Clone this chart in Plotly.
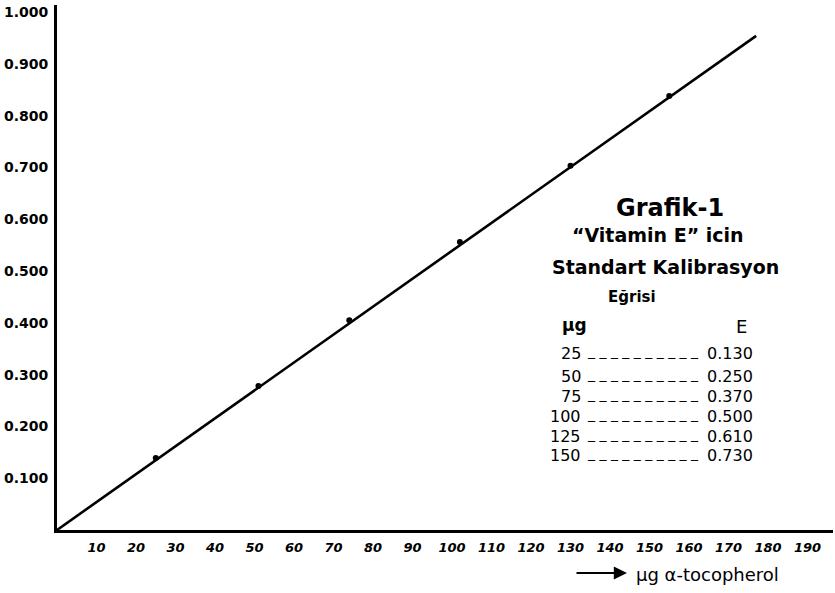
import plotly.graph_objects as go

# Plotted calibration points
point_ug = [25, 51, 74, 102, 130, 155]
point_E = [0.139, 0.278, 0.405, 0.556, 0.703, 0.838]

# Drawn calibration line (origin to end of ruled line)
line_ug = [0, 177]
line_E = [0, 0.954]

# Table written on the chart
table_ug = [25, 50, 75, 100, 125, 150]
table_E = [0.130, 0.250, 0.370, 0.500, 0.610, 0.730]

# Axis ticks
y_tickvals = [0.1, 0.2, 0.3, 0.4, 0.5, 0.6, 0.7, 0.8, 0.9, 1.0]
y_ticktext = ["0.100", "0.200", "0.300", "0.400", "0.500", "0.600", "0.700", "0.800", "0.900", "1.000"]
x_tickvals = [10, 20, 30, 40, 50, 60, 70, 80, 90, 100, 110, 120, 130, 140, 150, 160, 170, 180, 190]
x_ticktext = [str(v) for v in x_tickvals]

W, H = 835, 593
L, R, T, B = 57, 2, 5, 63
pw, ph = W - L - R, H - T - B
x_max = pw / 3.95
y_max = ph / 518.0

def px(xp):
    return (xp - L) / pw

def py(yp):
    return (H - B - yp) / ph

FONT = "DejaVu Sans"

fig = go.Figure()
fig.add_trace(go.Scatter(x=line_ug, y=line_E, mode="lines",
                         line=dict(color="black", width=2.6), hoverinfo="skip",
                         showlegend=False))
fig.add_trace(go.Scatter(x=point_ug, y=point_E, mode="markers",
                         marker=dict(color="black", size=6), showlegend=False))

ann = []
# Title block
ann.append(dict(text="<b>Grafik-1</b>", x=px(670), y=py(208), font=dict(size=24, family=FONT)))
ann.append(dict(text="<b>“Vitamin E” icin</b>", x=px(658), y=py(235), font=dict(size=19, family=FONT)))
ann.append(dict(text="<b>Standart Kalibrasyon</b>", x=px(665), y=py(267), font=dict(size=19, family=FONT)))
ann.append(dict(text="<b>Eğrisi</b>", x=px(632), y=py(297), font=dict(size=15, family=FONT)))
ann.append(dict(text="<b>µg</b>", x=px(574), y=py(325), font=dict(size=17, family=FONT)))
ann.append(dict(text="E", x=px(741), y=py(326), font=dict(size=18, family=FONT)))

row_y = [353, 376, 396, 416, 436, 455]
for ug, e, yy in zip(table_ug, table_E, row_y):
    ann.append(dict(text=str(ug), x=px(583), y=py(yy), xanchor="right",
                    font=dict(size=16, family=FONT)))
    ann.append(dict(text="_ _ _ _ _ _ _ _ _ _", x=px(643), y=py(yy - 2), xanchor="center",
                    font=dict(size=14, family=FONT)))
    ann.append(dict(text=f"{e:.3f}", x=px(705), y=py(yy), xanchor="left",
                    font=dict(size=16, family=FONT)))

# Axis title with arrow
ann.append(dict(text="", x=px(627), y=py(573), ax=-52, ay=0, showarrow=True,
                arrowhead=2, arrowsize=1.2, arrowwidth=2.2, arrowcolor="black"))
ann.append(dict(text="µg α-tocopherol", x=px(634), y=py(574), xanchor="left",
                font=dict(size=18, family=FONT)))

for a in ann:
    a.setdefault("xref", "paper")
    a.setdefault("yref", "paper")
    a.setdefault("showarrow", False)
    a.setdefault("yanchor", "middle")
    a.setdefault("xanchor", "center")
    if "font" in a:
        a["font"]["color"] = "black"

fig.update_layout(
    width=W, height=H,
    margin=dict(l=L, r=R, t=T, b=B, pad=0, autoexpand=False),
    paper_bgcolor="white", plot_bgcolor="white",
    annotations=ann,
    xaxis=dict(range=[0, x_max], tickvals=x_tickvals, ticktext=x_ticktext,
               showgrid=False, zeroline=False, showline=True, linecolor="black",
               linewidth=3, ticks="", ticklabelstandoff=3, automargin=False,
               tickfont=dict(family=FONT, size=13, color="black", style="italic", weight="bold")),
    yaxis=dict(range=[0, y_max], tickvals=y_tickvals, ticktext=y_ticktext,
               showgrid=False, zeroline=False, showline=True, linecolor="black",
               linewidth=3, ticks="", ticklabelstandoff=3, automargin=False,
               tickfont=dict(family=FONT, size=14, color="black", weight="bold")),
)

fig.write_html("out.html", config={"displayModeBar": False},
               post_script="document.body.style.margin='0px';")
